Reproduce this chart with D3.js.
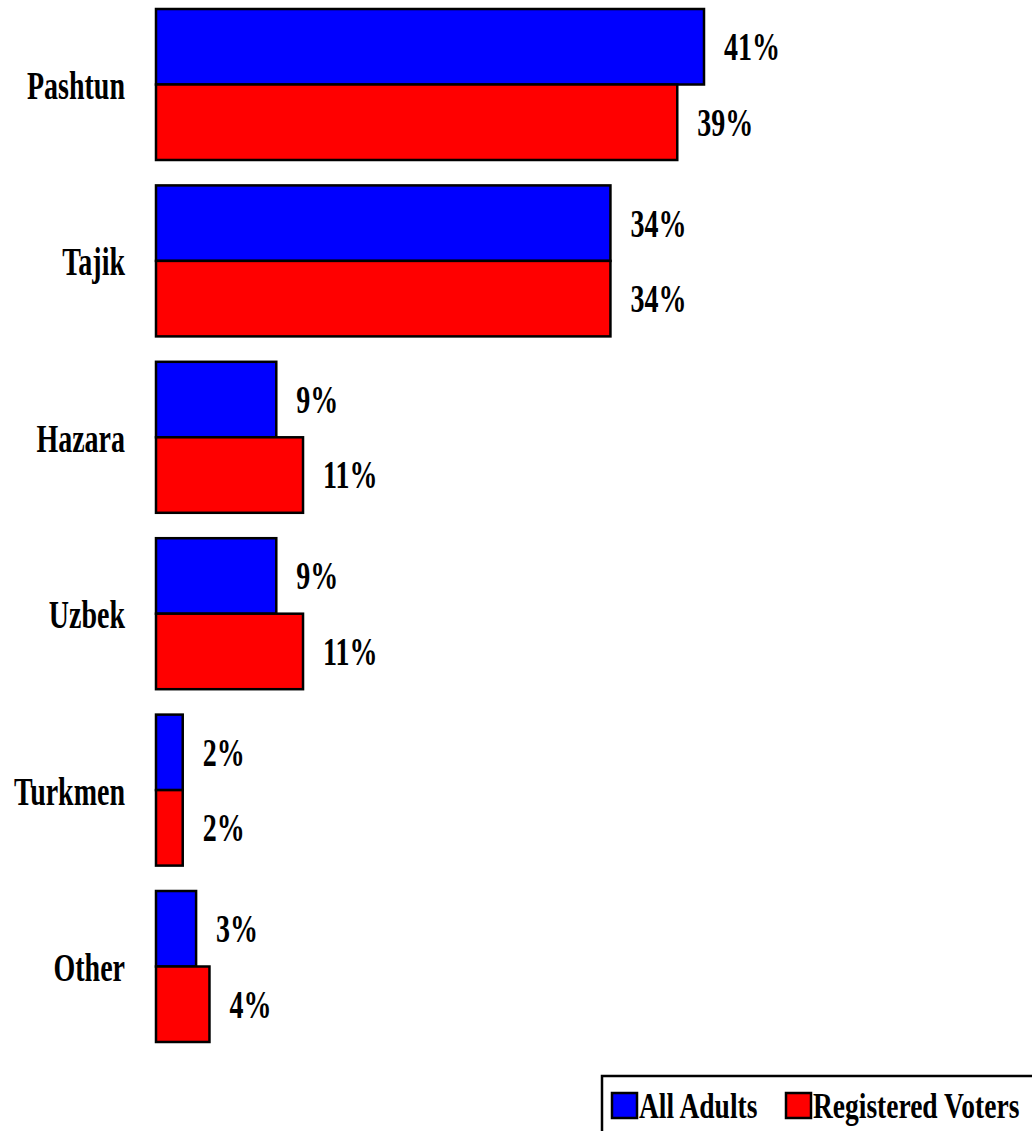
<!DOCTYPE html>
<html>
<head>
<meta charset="utf-8">
<script src="https://cdn.jsdelivr.net/npm/d3@7"></script>
<style>
	body { margin: 0; background: #fff; }
	svg { display: block; }
</style>
</head>
<body>
<svg width="1032" height="1131"></svg>
<script>
var categories = ["Pashtun", "Tajik", "Hazara", "Uzbek", "Turkmen", "Other"];
var seriesNames = ["All Adults", "Registered Voters"];
var seriesColors = ["#0000ff", "#ff0000"];
var allAdults = [41, 34, 9, 9, 2, 3];
var registeredVoters = [39, 34, 11, 11, 2, 4];

var svg = d3.select("svg"),
	width = +svg.attr("width"),
	height = +svg.attr("height");

var fontFamily = "'Liberation Serif', 'Times New Roman', Times, serif";

// text in the original is tall and narrow, so stretch it vertically
var fontSize = 28,
	stretch = 1.45,
	capHalf = fontSize * 0.662 * stretch / 2;

var y = d3.scaleBand()
	.domain(categories)
	.range([9, 1042])
	.paddingInner(0.144)
	.paddingOuter(0);

var sub = d3.scaleBand()
	.domain(seriesNames)
	.range([0, y.bandwidth()]);

var x = d3.scaleLinear()
	.domain([0, 41])
	.range([156, 704]);

var rows = categories.map(function(c, i){
	return { cat: c, values: [allAdults[i], registeredVoters[i]] };
});

var group = svg.append("g")
	.selectAll("g")
	.data(rows)
	.enter().append("g")
	.attr("transform", function(d){ return "translate(0," + y(d.cat) + ")"; });

// category labels
group.append("text")
	.attr("text-anchor", "end")
	.style("font-family", fontFamily)
	.style("font-weight", "bold")
	.style("font-size", fontSize + "px")
	.attr("transform", function(){ return "translate(125," + (y.bandwidth() / 2 + capHalf + 1) + ") scale(1," + stretch + ")"; })
	.text(function(d){ return d.cat; });

var bars = group.selectAll("g.bar")
	.data(function(d){ return d.values.map(function(v, j){ return { series: seriesNames[j], color: seriesColors[j], value: v }; }); })
	.enter().append("g")
	.attr("class", "bar");

bars.append("rect")
	.attr("x", x(0))
	.attr("y", function(d){ return sub(d.series); })
	.attr("width", function(d){ return x(d.value) - x(0); })
	.attr("height", sub.bandwidth())
	.style("fill", function(d){ return d.color; })
	.style("stroke", "#000")
	.style("stroke-width", 2.5);

bars.append("text")
	.style("font-family", fontFamily)
	.style("font-weight", "bold")
	.style("font-size", fontSize + "px")
	.attr("transform", function(d){
		return "translate(" + (x(d.value) + 20) + "," + (sub(d.series) + sub.bandwidth() / 2 + capHalf) + ") scale(1," + stretch + ")";
	})
	.text(function(d){ return d.value + "%"; });

// legend, partly cut off at the bottom right like the source
var legend = svg.append("g");
legend.append("rect")
	.attr("x", 602)
	.attr("y", 1076)
	.attr("width", 460)
	.attr("height", 80)
	.style("fill", "#fff")
	.style("stroke", "#000")
	.style("stroke-width", 2.5);

var legendX = [612, 786];
var lsFont = 27.5, lsStretch = 1.3;
var item = legend.selectAll("g.item")
	.data(seriesNames)
	.enter().append("g")
	.attr("class", "item")
	.attr("transform", function(d, i){ return "translate(" + legendX[i] + ",1093)"; });

item.append("rect")
	.attr("width", 25)
	.attr("height", 25)
	.style("fill", function(d, i){ return seriesColors[i]; })
	.style("stroke", "#000")
	.style("stroke-width", 2.5);

item.append("text")
	.style("font-family", fontFamily)
	.style("font-weight", "bold")
	.style("font-size", lsFont + "px")
	.attr("transform", "translate(27,25) scale(1," + lsStretch + ")")
	.text(function(d){ return d; });
</script>
</body>
</html>
